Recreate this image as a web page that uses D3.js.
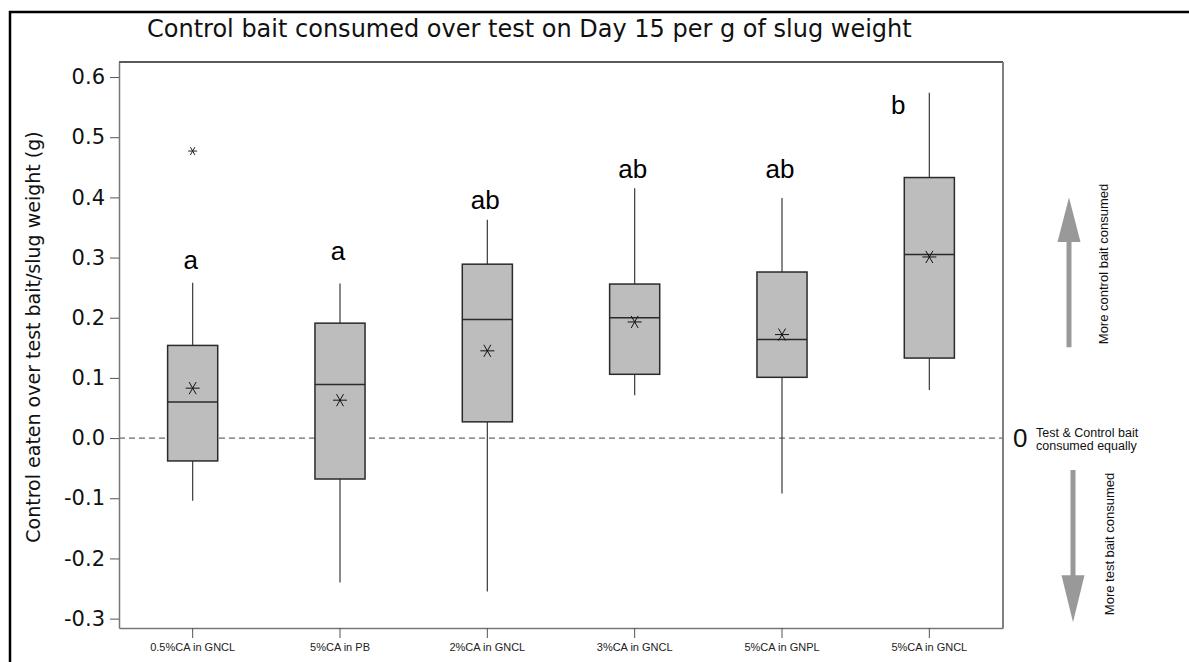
<!DOCTYPE html>
<html>
<head>
<meta charset="utf-8">
<script src="https://cdn.jsdelivr.net/npm/d3@7"></script>
<style>
  html, body { margin: 0; padding: 0; background: #fff; }
  svg { display: block; }
</style>
</head>
<body>
<svg id="chart" width="1189" height="662"></svg>
<script>
// Treatment groups along the x axis
const categories = ["0.5%CA in GNCL", "5%CA in PB", "2%CA in GNCL", "3%CA in GNCL", "5%CA in GNPL", "5%CA in GNCL"];
// Box-plot statistics (g control bait eaten over test bait per g slug weight)
const whiskerLow  = [-0.104, -0.240, -0.255, 0.071, -0.092, 0.080];
const q1          = [-0.038, -0.068, 0.027, 0.106, 0.101, 0.133];
const median      = [0.060, 0.089, 0.197, 0.200, 0.164, 0.305];
const q3          = [0.154, 0.191, 0.289, 0.256, 0.276, 0.433];
const whiskerHigh = [0.258, 0.257, 0.363, 0.415, 0.399, 0.574];
const means       = [0.083, 0.063, 0.145, 0.193, 0.172, 0.301];
const outliers    = [[0.477], [], [], [], [], []];
// Significance groupings and the value level each letter sits at
const groupLetters = ["a", "a", "ab", "ab", "ab", "b"];
const letterLevel  = [0.281, 0.296, 0.380, 0.433, 0.432, 0.538];
// Y axis ticks
const yTicks = [-0.3, -0.2, -0.1, 0.0, 0.1, 0.2, 0.3, 0.4, 0.5, 0.6];

const svg = d3.select("#chart");
const W = 1189, H = 662;
const plot = { left: 119, right: 1003, top: 62, bottom: 628 };

svg.append("rect").attr("width", W).attr("height", H).attr("fill", "#fff");
// outer frame
svg.append("path").attr("d", `M10,${H + 5}V12H${W + 5}`)
  .attr("fill", "none").attr("stroke", "#000").attr("stroke-width", 2.5);

const y = d3.scaleLinear().domain([-0.3156, 0.625]).range([plot.bottom, plot.top]);
const x = d3.scaleBand().domain(categories).range([plot.left, plot.right])
  .paddingInner(0.66).paddingOuter(0.33);
const cx = c => x(c) + x.bandwidth() / 2;

const sans = "'DejaVu Sans', Verdana, sans-serif";
const arial = "'Liberation Sans', Arial, sans-serif";

// title
svg.append("text").attr("x", 147).attr("y", 37)
  .attr("font-family", sans).attr("font-size", 24).attr("fill", "#111")
  .text("Control bait consumed over test on Day 15 per g of slug weight");

// y axis title
svg.append("text")
  .attr("transform", `translate(40,${337}) rotate(-90)`)
  .attr("text-anchor", "middle").attr("font-family", sans).attr("font-size", 19).attr("fill", "#111")
  .text("Control eaten over test bait/slug weight (g)");

// zero reference line
svg.append("line")
  .attr("x1", plot.left).attr("x2", plot.right).attr("y1", y(0)).attr("y2", y(0))
  .attr("stroke", "#444").attr("stroke-width", 1).attr("stroke-dasharray", "6,4");

// frame top and right
svg.append("line").attr("x1", plot.left).attr("x2", plot.right).attr("y1", plot.top).attr("y2", plot.top)
  .attr("stroke", "#222").attr("stroke-width", 1.5);
svg.append("line").attr("x1", plot.right).attr("x2", plot.right).attr("y1", plot.top).attr("y2", plot.bottom)
  .attr("stroke", "#808080").attr("stroke-width", 2);

// axes
const yAxis = svg.append("g").attr("transform", `translate(${plot.left},0)`)
  .call(d3.axisLeft(y).tickValues(yTicks).tickSize(9).tickSizeOuter(0).tickPadding(5)
    .tickFormat(d => d.toFixed(1)));
yAxis.selectAll("text").attr("font-family", sans).attr("font-size", 21).attr("fill", "#111");

const xAxis = svg.append("g").attr("transform", `translate(0,${plot.bottom})`)
  .call(d3.axisBottom(x).tickSize(10).tickSizeOuter(0).tickPadding(5));
xAxis.selectAll("text").attr("font-family", arial).attr("font-size", 11).attr("fill", "#222");

[yAxis, xAxis].forEach(g => {
  g.select(".domain").attr("stroke", "#777").attr("stroke-width", 1.5);
  g.selectAll(".tick line").attr("stroke", "#555").attr("stroke-width", 1);
});

// asterisk symbol: horizontal stroke plus two steep diagonals
function asterisk(r) {
  const a = Math.PI / 3;
  let d = "";
  [0, a, 2 * a].forEach(t => {
    const dx = r * Math.cos(t), dy = r * Math.sin(t);
    d += `M${-dx},${-dy}L${dx},${dy}`;
  });
  return d;
}

const boxes = svg.append("g");
categories.forEach((c, i) => {
  const g = boxes.append("g");
  const xc = cx(c), bw = x.bandwidth();
  // whiskers
  g.append("line").attr("x1", xc).attr("x2", xc).attr("y1", y(whiskerHigh[i])).attr("y2", y(q3[i]))
    .attr("stroke", "#3a3a3a").attr("stroke-width", 1.2);
  g.append("line").attr("x1", xc).attr("x2", xc).attr("y1", y(q1[i])).attr("y2", y(whiskerLow[i]))
    .attr("stroke", "#3a3a3a").attr("stroke-width", 1.2);
  // box
  g.append("rect").attr("x", x(c)).attr("width", bw)
    .attr("y", y(q3[i])).attr("height", y(q1[i]) - y(q3[i]))
    .attr("fill", "#bdbdbd").attr("stroke", "#2a2a2a").attr("stroke-width", 1.5);
  // median
  g.append("line").attr("x1", x(c)).attr("x2", x(c) + bw).attr("y1", y(median[i])).attr("y2", y(median[i]))
    .attr("stroke", "#2a2a2a").attr("stroke-width", 1.5);
  // mean
  g.append("path").attr("d", asterisk(7)).attr("transform", `translate(${xc},${y(means[i])})`)
    .attr("fill", "none").attr("stroke", "#111").attr("stroke-width", 1);
  // outliers
  outliers[i].forEach(v => {
    g.append("path").attr("d", asterisk(4.5)).attr("transform", `translate(${xc},${y(v)})`)
      .attr("fill", "none").attr("stroke", "#222").attr("stroke-width", 1);
  });
  // grouping letter, set beside the whisker when the whisker passes above it
  const lx = whiskerHigh[i] > letterLevel[i] ? xc - 31 : xc - 2;
  g.append("text").attr("x", lx).attr("y", y(letterLevel[i]))
    .attr("text-anchor", "middle").attr("font-family", arial).attr("font-size", 26).attr("fill", "#000")
    .text(groupLetters[i]);
});

// right-hand guide: arrows and explanation
const guide = svg.append("g");
function arrow(xc, from, headBase, tip) {
  const sw = 2.5, hw = 11.5;
  const y0 = y(from), yb = y(headBase), yt = y(tip);
  return `M${xc - sw},${y0}L${xc - sw},${yb}L${xc - hw},${yb}L${xc},${yt}L${xc + hw},${yb}L${xc + sw},${yb}L${xc + sw},${y0}Z`;
}
guide.append("path").attr("d", arrow(1069, 0.151, 0.326, 0.400)).attr("fill", "#999");
guide.append("path").attr("d", arrow(1073, -0.053, -0.228, -0.306)).attr("fill", "#999");

guide.append("text").attr("x", 1013).attr("y", y(0)).attr("dy", "0.36em")
  .attr("font-family", arial).attr("font-size", 26).attr("fill", "#111").text("0");
const note = guide.append("text").attr("font-family", arial).attr("font-size", 12.5).attr("fill", "#111");
note.append("tspan").attr("x", 1036).attr("y", 437).text("Test & Control bait");
note.append("tspan").attr("x", 1036).attr("y", 450).text("consumed equally");

guide.append("text").attr("transform", `translate(1108,${264}) rotate(-90)`)
  .attr("text-anchor", "middle").attr("font-family", arial).attr("font-size", 13).attr("fill", "#111")
  .text("More control bait consumed");
guide.append("text").attr("transform", `translate(1114,${544}) rotate(-90)`)
  .attr("text-anchor", "middle").attr("font-family", arial).attr("font-size", 13).attr("fill", "#111")
  .text("More test bait consumed");
</script>
</body>
</html>
